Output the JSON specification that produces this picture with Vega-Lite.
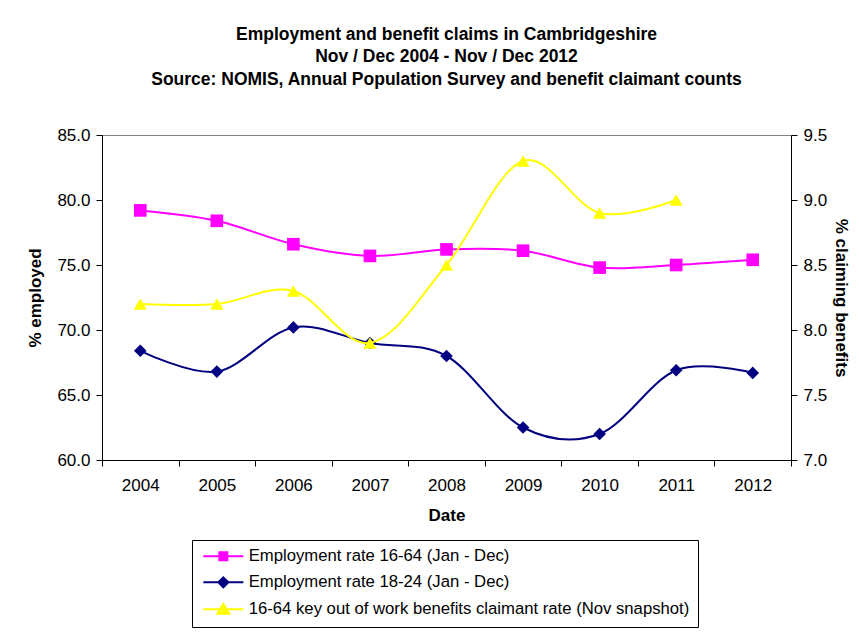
{
  "$schema": "https://vega.github.io/schema/vega-lite/v6.json",
  "width": 689,
  "height": 325,
  "autosize": "none",
  "padding": {"left": 102, "top": 135, "right": 68, "bottom": 175},
  "background": "white",
  "title": {
    "text": ["Employment and benefit claims in Cambridgeshire", "Nov / Dec 2004 - Nov / Dec 2012", "Source: NOMIS, Annual Population Survey and benefit claimant counts"],
    "font": "Liberation Sans",
    "fontSize": 17.5,
    "fontWeight": "bold",
    "lineHeight": 22.5,
    "anchor": "middle",
    "offset": 38,
    "color": "black"
  },
  "config": {
    "view": {"stroke": "#808080", "strokeWidth": 1},
    "axis": {
      "labelFont": "Liberation Sans",
      "labelFontSize": 17,
      "labelColor": "black",
      "titleFont": "Liberation Sans",
      "titleFontSize": 17,
      "titleFontWeight": "bold",
      "titleColor": "black",
      "domainColor": "black",
      "tickColor": "black",
      "tickSize": 6,
      "grid": false
    }
  },
  "data": {
    "values": [
      {"year": "2004", "series": "Employment rate 16-64 (Jan - Dec)", "side": "left", "value": 79.2},
      {"year": "2005", "series": "Employment rate 16-64 (Jan - Dec)", "side": "left", "value": 78.4},
      {"year": "2006", "series": "Employment rate 16-64 (Jan - Dec)", "side": "left", "value": 76.6},
      {"year": "2007", "series": "Employment rate 16-64 (Jan - Dec)", "side": "left", "value": 75.7},
      {"year": "2008", "series": "Employment rate 16-64 (Jan - Dec)", "side": "left", "value": 76.2},
      {"year": "2009", "series": "Employment rate 16-64 (Jan - Dec)", "side": "left", "value": 76.1},
      {"year": "2010", "series": "Employment rate 16-64 (Jan - Dec)", "side": "left", "value": 74.8},
      {"year": "2011", "series": "Employment rate 16-64 (Jan - Dec)", "side": "left", "value": 75.0},
      {"year": "2012", "series": "Employment rate 16-64 (Jan - Dec)", "side": "left", "value": 75.4},
      {"year": "2004", "series": "Employment rate 18-24 (Jan - Dec)", "side": "left", "value": 68.4},
      {"year": "2005", "series": "Employment rate 18-24 (Jan - Dec)", "side": "left", "value": 66.8},
      {"year": "2006", "series": "Employment rate 18-24 (Jan - Dec)", "side": "left", "value": 70.2},
      {"year": "2007", "series": "Employment rate 18-24 (Jan - Dec)", "side": "left", "value": 69.0},
      {"year": "2008", "series": "Employment rate 18-24 (Jan - Dec)", "side": "left", "value": 68.0},
      {"year": "2009", "series": "Employment rate 18-24 (Jan - Dec)", "side": "left", "value": 62.5},
      {"year": "2010", "series": "Employment rate 18-24 (Jan - Dec)", "side": "left", "value": 62.0},
      {"year": "2011", "series": "Employment rate 18-24 (Jan - Dec)", "side": "left", "value": 66.9},
      {"year": "2012", "series": "Employment rate 18-24 (Jan - Dec)", "side": "left", "value": 66.7},
      {"year": "2004", "series": "16-64 key out of work benefits claimant rate (Nov snapshot)", "side": "right", "value": 8.2},
      {"year": "2005", "series": "16-64 key out of work benefits claimant rate (Nov snapshot)", "side": "right", "value": 8.2},
      {"year": "2006", "series": "16-64 key out of work benefits claimant rate (Nov snapshot)", "side": "right", "value": 8.3},
      {"year": "2007", "series": "16-64 key out of work benefits claimant rate (Nov snapshot)", "side": "right", "value": 7.9},
      {"year": "2008", "series": "16-64 key out of work benefits claimant rate (Nov snapshot)", "side": "right", "value": 8.5},
      {"year": "2009", "series": "16-64 key out of work benefits claimant rate (Nov snapshot)", "side": "right", "value": 9.3},
      {"year": "2010", "series": "16-64 key out of work benefits claimant rate (Nov snapshot)", "side": "right", "value": 8.9},
      {"year": "2011", "series": "16-64 key out of work benefits claimant rate (Nov snapshot)", "side": "right", "value": 9.0}
    ]
  },
  "encoding": {
    "x": {
      "field": "year",
      "type": "ordinal",
      "scale": {"type": "band", "paddingInner": 0, "paddingOuter": 0, "domain": ["2004","2005","2006","2007","2008","2009","2010","2011","2012"]},
      "axis": {"title": "Date", "labelAngle": 0, "tickBand": "extent", "labelPadding": 11, "titlePadding": 14}
    },
    "color": {
      "field": "series",
      "type": "nominal",
      "scale": {
        "domain": ["Employment rate 16-64 (Jan - Dec)", "Employment rate 18-24 (Jan - Dec)", "16-64 key out of work benefits claimant rate (Nov snapshot)"],
        "range": ["#FF00FF", "#000080", "#FFFF00"]
      },
      "legend": {
        "orient": "none",
        "legendX": 90,
        "legendY": 405,
        "title": null,
        "direction": "vertical",
        "strokeColor": "black",
        "fillColor": "white",
        "padding": 8,
        "labelFont": "Liberation Sans",
        "labelFontSize": 16.7,
        "labelColor": "black",
        "labelLimit": 700,
        "symbolSize": 100,
        "symbolStrokeWidth": 2,
        "rowPadding": 7,
        "labelOffset": 32,
        "encode": {
          "symbols": {
            "update": {
              "shape": {"signal": "datum.value === 'Employment rate 16-64 (Jan - Dec)' ? 'M-1,0H7M2.2,-0.8H3.8V0.8H2.2Z' : datum.value === 'Employment rate 18-24 (Jan - Dec)' ? 'M-1,0H7M3,-1L4,0L3,1L2,0Z' : 'M-1,0H7M3,-1.1L4.2,0.9H1.8Z'"},
              "fill": {"scale": "color", "field": "value"},
              "stroke": {"scale": "color", "field": "value"},
              "strokeWidth": {"value": 2},
              "opacity": {"value": 1},
              "fillOpacity": {"value": 1},
              "strokeOpacity": {"value": 1}
            }
          }
        }
      }
    }
  },
  "layer": [
    {
      "transform": [{"filter": "datum.side === 'left'"}],
      "encoding": {
        "y": {
          "field": "value",
          "type": "quantitative",
          "scale": {"domain": [60, 85], "nice": false, "zero": false},
          "axis": {"orient": "left", "title": "% employed", "format": ".1f", "values": [60, 65, 70, 75, 80, 85], "labelPadding": 6, "titlePadding": 12}
        }
      },
      "layer": [
        {"mark": {"type": "line", "interpolate": "cardinal", "strokeWidth": 2}},
        {
          "mark": {"type": "point", "filled": true, "opacity": 1},
          "encoding": {
            "shape": {
              "condition": {"test": "datum.series === 'Employment rate 16-64 (Jan - Dec)'", "value": "square"},
              "value": "diamond"
            },
            "size": {"value": 160}
          }
        }
      ]
    },
    {
      "transform": [{"filter": "datum.side === 'right'"}],
      "encoding": {
        "y": {
          "field": "value",
          "type": "quantitative",
          "scale": {"domain": [7, 9.5], "nice": false, "zero": false},
          "axis": {"orient": "right", "title": "% claiming benefits", "format": ".1f", "values": [7, 7.5, 8, 8.5, 9, 9.5], "labelPadding": 6, "titlePadding": 5}
        }
      },
      "layer": [
        {"mark": {"type": "line", "interpolate": "cardinal", "strokeWidth": 2}},
        {
          "mark": {"type": "point", "filled": true, "opacity": 1, "shape": "triangle-up"},
          "encoding": {
            "size": {"value": 170}
          }
        }
      ]
    }
  ],
  "resolve": {"scale": {"y": "independent"}}
}
